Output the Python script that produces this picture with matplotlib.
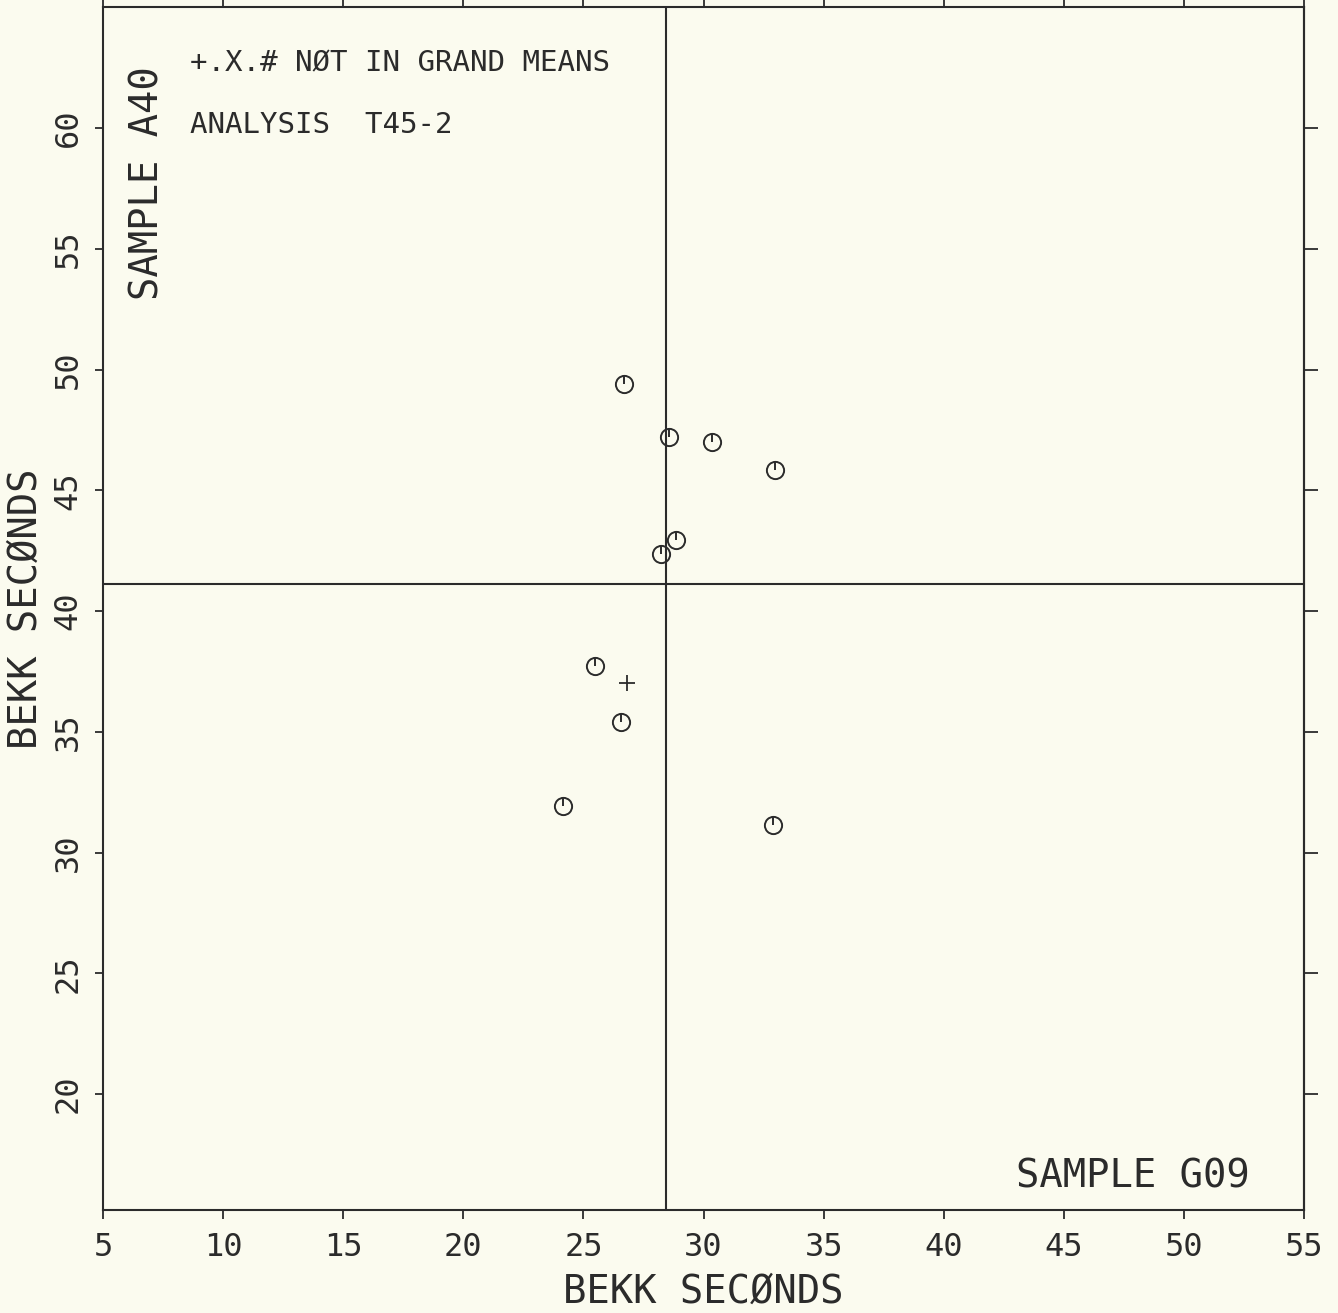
import matplotlib
matplotlib.use("Agg")
import matplotlib.pyplot as plt

# ---- data ----
sample_g09 = [26.70, 28.56, 30.37, 32.98, 28.84, 28.22, 25.48, 26.55, 24.14, 32.91]
sample_a40 = [49.40, 47.19, 47.01, 45.84, 42.94, 42.35, 37.72, 35.39, 31.94, 31.14]
excluded_g09 = [26.80]
excluded_a40 = [37.01]
grand_mean_g09 = 28.43
grand_mean_a40 = 41.12
x_ticks = [5, 10, 15, 20, 25, 30, 35, 40, 45, 50, 55]
y_ticks = [20, 25, 30, 35, 40, 45, 50, 55, 60]

INK = "#2b2b2b"
BG = "#fbfbef"
FONT = "DejaVu Sans Mono"

plt.rcParams["font.family"] = [FONT, "DejaVu Sans"]

fig = plt.figure(figsize=(13.38, 13.13), dpi=100, facecolor=BG)
ax = fig.add_axes([0.07698, 0.07845, 0.89761, 0.91599])
ax.set_facecolor(BG)
ax.set_xlim(5, 55)
ax.set_ylim(15.2, 65.0)

for s in ax.spines.values():
    s.set_color(INK)
    s.set_linewidth(1.5)

# grand mean lines
ax.axvline(grand_mean_g09, color=INK, lw=1.5)
ax.axhline(grand_mean_a40, color=INK, lw=1.5)

# circle markers with a tick (clock-like)
ax.plot(sample_g09, sample_a40, ls="none", marker="o", ms=12.4,
        mfc="none", mec=INK, mew=1.4)
ax.plot(sample_g09, sample_a40, ls="none", marker=[(0, 0), (0, 1)], ms=11,
        mec=INK, mew=1.4)
# point not in grand means
ax.plot(excluded_g09, excluded_a40, ls="none", marker="+", ms=12,
        mec=INK, mew=1.3)

# ticks
ax.set_xticks(x_ticks)
ax.set_yticks(y_ticks)
ax.set_xticklabels([str(t) for t in x_ticks])
ax.set_yticklabels([str(t) for t in y_ticks])
ax.tick_params(axis="x", direction="out", length=6.5, width=1.3, color=INK,
               labelsize=23, labelcolor=INK, pad=9, top=True, labeltop=False)
ax.tick_params(axis="y", direction="out", length=6, width=1.3, color=INK,
               labelsize=23, labelcolor=INK, pad=8, labelrotation=90,
               right=False)
for lab in ax.get_yticklabels():
    lab.set_va("center")

sec = ax.secondary_yaxis("right", functions=(lambda v: v, lambda v: v))
sec.set_yticks(y_ticks)
sec.tick_params(direction="out", length=10, width=1.3, color=INK,
                labelright=False)
sec.spines["right"].set_color(INK)
sec.spines["right"].set_linewidth(1.5)

ax.set_xlabel("BEKK SECØNDS", fontsize=28, color=INK, va="baseline")
ax.xaxis.set_label_coords(0.5, -0.0773)
ax.set_ylabel("BEKK SECØNDS", fontsize=28, color=INK, va="center", ha="center")
ax.yaxis.set_label_coords(-0.064, 0.5)

ax.text(0.0724, 0.9468, "+.X.# NØT IN GRAND MEANS", transform=ax.transAxes,
        fontsize=21, color=INK, ha="left", va="baseline")
ax.text(0.0724, 0.8953, "ANALYSIS  T45-2", transform=ax.transAxes,
        fontsize=21, color=INK, ha="left", va="baseline")
ax.text(0.0458, 0.7565, "SAMPLE A40", transform=ax.transAxes, rotation=90,
        rotation_mode="anchor", fontsize=28, color=INK, ha="left", va="baseline")
ax.text(0.955, 0.0191, "SAMPLE G09", transform=ax.transAxes,
        fontsize=28, color=INK, ha="right", va="baseline")

fig.savefig("out.png", dpi=100, facecolor=BG)
